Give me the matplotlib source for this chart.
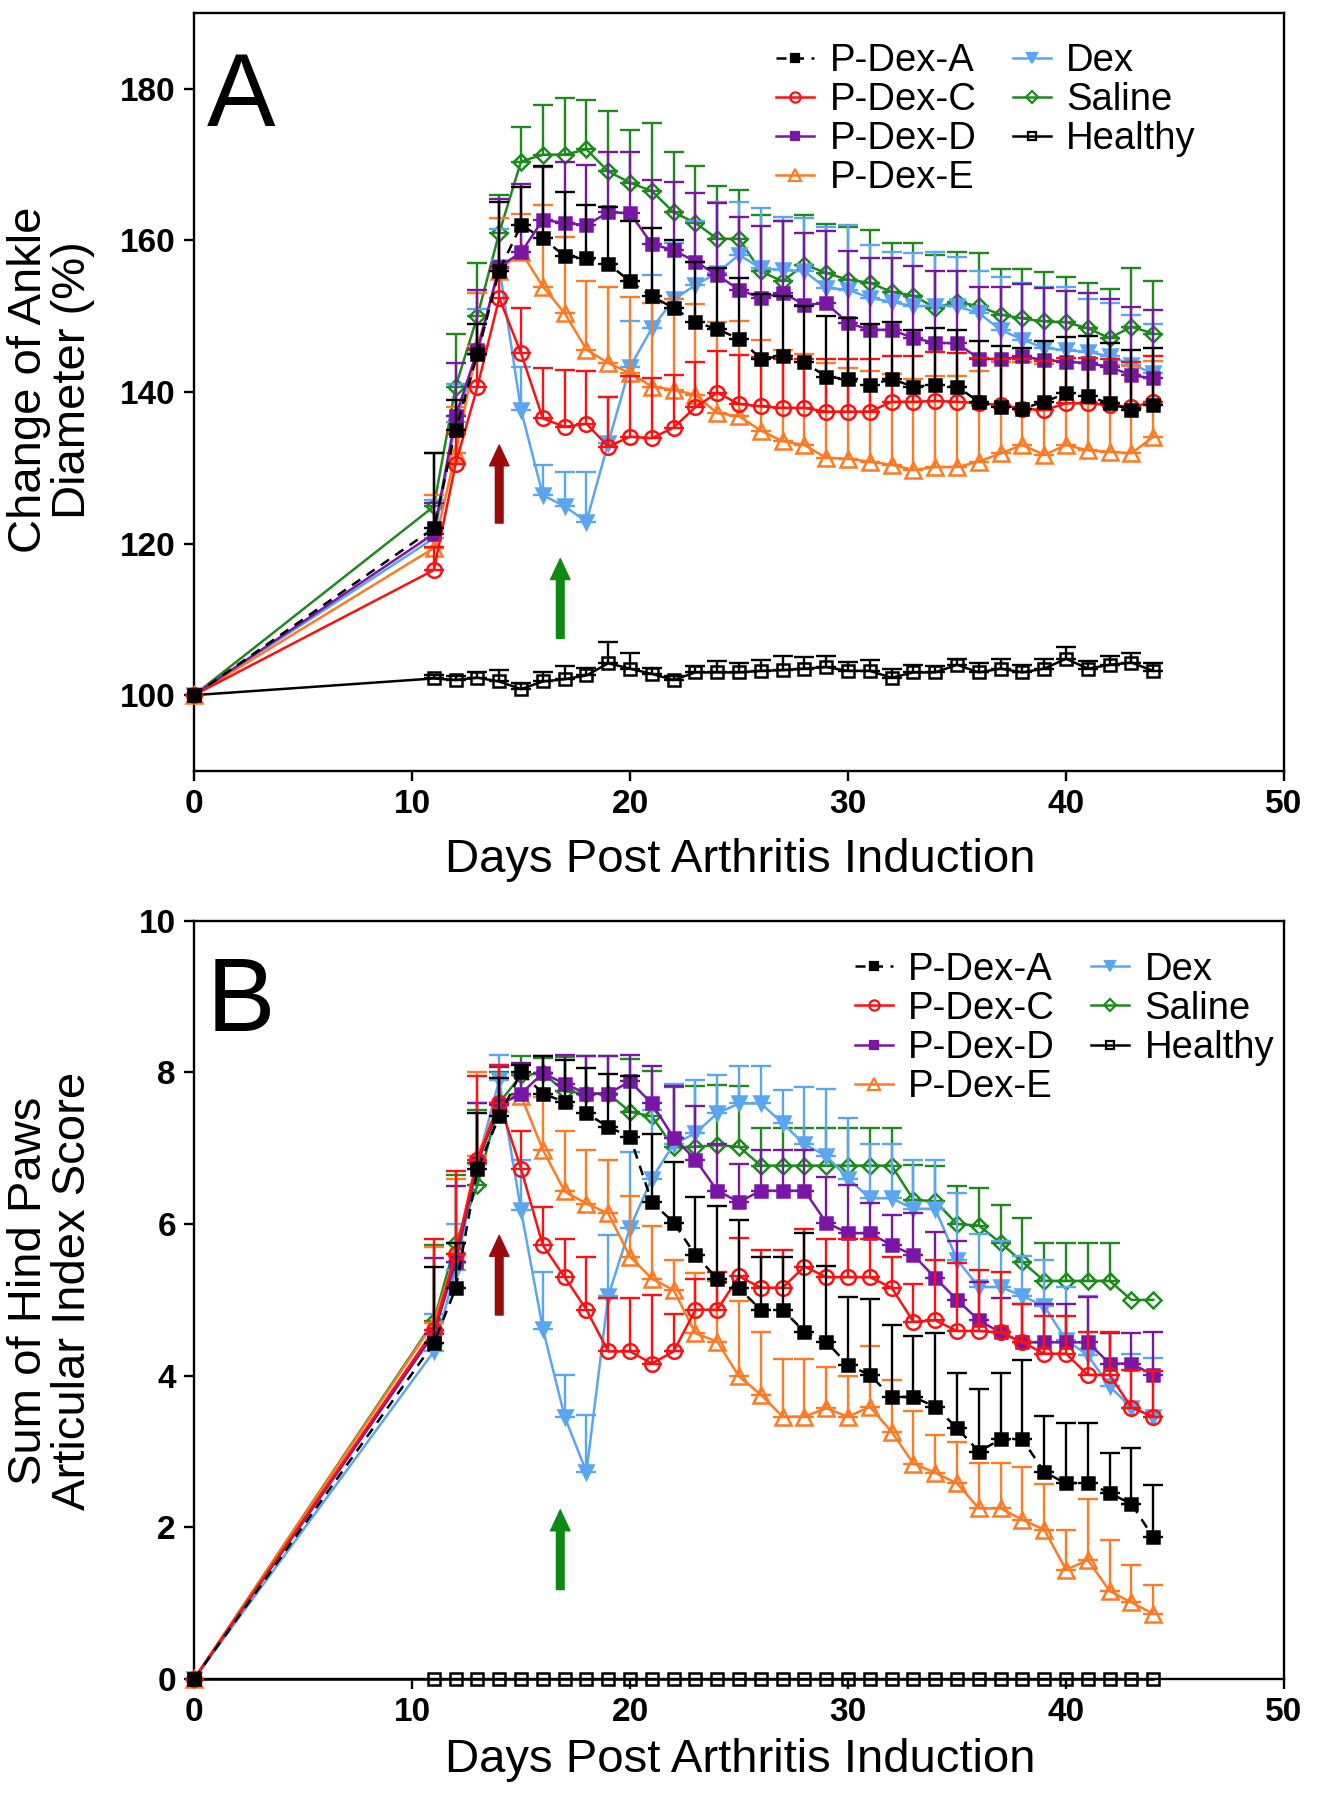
import numpy as np
import matplotlib
matplotlib.use('Agg')
import matplotlib.pyplot as plt
from matplotlib.lines import Line2D

plt.rcParams['font.family'] = ['Liberation Sans', 'DejaVu Sans']

days = [0] + list(range(11, 45))

labels = ['P-Dex-A', 'P-Dex-C', 'P-Dex-D', 'P-Dex-E', 'Dex', 'Saline', 'Healthy']

# ---- panel A: change of ankle diameter (%) ----
ankle_pdex_a = [100, 122, 135, 145, 156, 162, 160.3, 157.9, 157.7, 156.9, 154.6, 152.6, 151.1, 149.2, 148.3,
                147, 144.4, 144.7, 143.9, 142, 141.7, 140.9, 141.7, 140.7, 140.9, 140.7, 138.7, 138, 137.8,
                138.7, 139.8, 139.4, 138.5, 137.6, 138.3]
ankle_pdex_a_err = [0, 10, 4, 4, 9, 5, 9.5, 8.5, 7, 7.5, 8, 9, 9, 8, 8, 8, 8.5, 8, 7.5, 8, 8, 8, 7.5, 7.5,
                    7.5, 7.5, 8, 8, 8, 8, 7.5, 8, 8, 8, 7.5]
ankle_pdex_c = [100, 116.5, 130.5, 140.7, 152.4, 145.1, 136.5, 135.4, 135.8, 132.8, 134.1, 133.9, 135.3, 138,
                139.9, 138.4, 138.1, 137.9, 137.9, 137.4, 137.4, 137.4, 138.7, 138.7, 138.8, 138.7, 138.5,
                138.3, 137.8, 137.6, 138.5, 138.5, 138.3, 138, 138.7]
ankle_pdex_c_err = [0, 3, 4, 5, 4, 6, 6.7, 7.5, 7, 6.5, 8, 8, 7, 6, 5.5, 6.5, 6.5, 6.5, 6.5, 7, 7, 7, 6, 6,
                    6.5, 6.5, 6, 6, 6.5, 6.5, 6, 6, 6, 6, 6]
ankle_pdex_d = [100, 121.3, 136.8, 145.5, 156.5, 158.4, 162.7, 162.3, 162, 163.7, 163.6, 159.5, 158.7, 157.2,
                155.4, 153.5, 152.4, 153.1, 151.5, 151.7, 149.1, 148.2, 148.2, 147.1, 146.5, 146.4, 144.4,
                144.3, 144.7, 144.2, 144, 143.8, 143.3, 142.2, 141.8]
ankle_pdex_d_err = [0, 4, 7, 8, 9, 9, 7, 8, 8, 8, 8, 8.5, 9, 9, 9.5, 9.6, 9.5, 9.5, 9.5, 9.5, 9.5, 9.5, 9.5,
                    9.5, 9.5, 9.5, 9.5, 9.5, 9.5, 9.5, 9.3, 9.3, 9, 9, 9]
ankle_pdex_e = [100, 119.4, 132, 146, 156, 158.5, 153.9, 150.4, 145.6, 143.8, 142.5, 140.7, 140.3, 139.6,
                137.2, 136.8, 134.9, 133.5, 133, 131.3, 131.2, 130.8, 130.4, 129.7, 130.1, 130.1, 130.8,
                131.9, 133, 131.7, 133, 132.3, 132.1, 131.9, 134.1]
ankle_pdex_e_err = [0, 7, 6, 7, 7, 5, 10.8, 10, 9, 10, 10, 11, 12, 12, 12, 12.5, 12, 12, 12, 12.5, 12, 12,
                    12, 12, 12, 12, 12, 12, 11, 12, 11, 11.5, 11.5, 11.5, 10]
ankle_dex = [100, 120.7, 136, 145, 156.5, 137.6, 126.4, 124.9, 122.9, 133.3, 143.3, 148.4, 152.2, 154.1,
             155.7, 158.1, 156.3, 156.1, 155.9, 153.7, 153.5, 152.4, 151.9, 151.3, 151.4, 151.3, 150.4,
             148.2, 146.9, 145.8, 145.5, 145.3, 144.7, 143.6, 142.5]
ankle_dex_err = [0, 5, 5, 6, 5, 5.7, 4, 4.5, 6.5, 6, 6, 7, 7.5, 8.5, 9.4, 7, 8, 7, 7, 8, 8.5, 7, 6.5, 7, 7,
                 6.5, 5.5, 7, 7.5, 8, 8.4, 7, 7, 6.5, 6.5]
ankle_saline = [100, 124.9, 140.7, 150, 161, 170.4, 171.3, 171.3, 172, 169.1, 167.6, 166.5, 163.7, 162.3,
                160.2, 160.2, 155.9, 154.6, 156.8, 155.7, 154.8, 154.4, 153.2, 152.7, 151.1, 151.9, 151.3,
                150.2, 149.7, 149.3, 149.2, 148.4, 147.1, 148.6, 147.7]
ankle_saline_err = [0, 7, 7, 7, 5, 4.5, 6.5, 7.5, 6.5, 8, 7, 9, 8, 7.5, 7, 6.5, 7.5, 8, 6.5, 6.5, 7, 7, 6.5,
                    7, 7, 6.5, 7, 6, 6.5, 6.5, 6, 6, 6.5, 7.7, 7]
ankle_healthy = [100, 102.2, 102, 102.3, 101.8, 100.8, 101.8, 102.1, 102.6, 104.2, 103.5, 102.8, 102, 103,
                 103, 103, 103.2, 103.3, 103.5, 103.7, 103.2, 103.2, 102.3, 103, 103, 104, 103, 103.5, 103,
                 103.5, 104.8, 103.5, 104, 104.3, 103.2]
ankle_healthy_err = [0, 0.5, 0.5, 0.8, 1.5, 0.8, 1.3, 1.7, 1, 2.8, 2, 0.8, 0.5, 0.8, 1.5, 1.3, 1.5, 1.8, 1.5,
                     1.5, 1.2, 1.5, 1.2, 1, 0.8, 0.8, 1.2, 1.3, 1, 1.3, 1.5, 1, 1.2, 1.3, 1]

# ---- panel B: articular index score ----
score_pdex_a = [0, 4.43, 5.15, 6.72, 7.42, 8.0, 7.72, 7.61, 7.46, 7.28, 7.15, 6.29, 6.02, 5.59, 5.28, 5.15,
                4.87, 4.87, 4.58, 4.45, 4.14, 4.01, 3.72, 3.72, 3.59, 3.31, 3.0, 3.16, 3.16, 2.73, 2.58,
                2.59, 2.45, 2.31, 1.87]
score_pdex_a_err = [0, 1.0, 0.6, 0.75, 0.5, 0.1, 0.5, 0.55, 0.6, 0.7, 0.8, 0.9, 0.8, 0.77, 0.96, 0.9, 0.7,
                    0.7, 1.3, 1.0, 0.9, 1.0, 0.95, 0.8, 0.97, 0.73, 0.82, 0.88, 1.05, 0.74, 0.79, 0.78,
                    0.53, 0.74, 0.69]
score_pdex_c = [0, 4.6, 5.6, 6.85, 7.6, 6.73, 5.72, 5.3, 4.87, 4.32, 4.32, 4.16, 4.32, 4.87, 4.87, 5.31,
                5.16, 5.16, 5.44, 5.3, 5.3, 5.3, 5.16, 4.71, 4.73, 4.59, 4.59, 4.57, 4.44, 4.29, 4.29, 4.01,
                4.01, 3.58, 3.46]
score_pdex_c_err = [0, 1.2, 1.1, 1.1, 0.5, 0.5, 0.5, 0.5, 0.7, 0.7, 0.7, 0.9, 0.5, 0.4, 0.5, 0.5, 0.5, 0.5,
                    0.5, 0.5, 0.5, 0.5, 0.4, 0.5, 0.8, 0.9, 0.8, 0.8, 0.5, 0.5, 0.5, 0.56, 0.56, 0.5, 0.6]
score_pdex_d = [0, 4.55, 5.5, 6.8, 7.57, 7.72, 7.99, 7.85, 7.72, 7.72, 7.88, 7.59, 7.14, 6.85, 6.44, 6.29,
                6.44, 6.44, 6.44, 6.02, 5.88, 5.88, 5.72, 5.59, 5.29, 5.0, 4.73, 4.57, 4.44, 4.44, 4.44, 4.44,
                4.16, 4.16, 4.01]
score_pdex_d_err = [0, 1.0, 1.0, 0.8, 0.5, 0.4, 0.23, 0.38, 0.5, 0.5, 0.35, 0.5, 0.68, 0.7, 0.62, 0.5, 0.54,
                    0.54, 0.54, 0.6, 0.63, 0.4, 0.4, 0.55, 0.6, 0.78, 0.5, 0.45, 0.5, 0.5, 0.5, 0.6, 0.4,
                    0.4, 0.57]
score_pdex_e = [0, 4.7, 5.6, 6.9, 7.6, 7.69, 6.98, 6.43, 6.27, 6.14, 5.57, 5.28, 5.13, 4.56, 4.45, 3.99,
                3.75, 3.46, 3.46, 3.57, 3.46, 3.59, 3.26, 2.84, 2.72, 2.58, 2.25, 2.25, 2.1, 1.97, 1.44, 1.57,
                1.16, 1.01, 0.86]
score_pdex_e_err = [0, 1.0, 1.0, 1.1, 0.5, 0.3, 0.7, 0.8, 0.7, 0.7, 0.8, 0.7, 0.4, 0.8, 0.8, 1.0, 0.83,
                    0.76, 0.76, 0.55, 0.53, 0.8, 0.68, 0.7, 0.5, 0.55, 0.6, 0.6, 0.7, 0.6, 0.53, 0.8, 0.68,
                    0.5, 0.38]
score_dex = [0, 4.32, 5.4, 6.8, 7.9, 6.18, 4.62, 3.46, 2.73, 5.05, 5.95, 6.6, 7.05, 7.2, 7.46, 7.59, 7.59,
             7.33, 7.05, 6.9, 6.6, 6.34, 6.34, 6.2, 6.2, 5.53, 5.17, 5.17, 5.05, 4.92, 4.47, 4.27, 3.86,
             3.58, 3.46]
score_dex_err = [0, 0.5, 0.6, 0.8, 0.33, 0.66, 0.75, 0.55, 0.75, 0.8, 1.0, 0.9, 0.8, 0.7, 0.5, 0.5, 0.5,
                 0.44, 0.76, 0.88, 0.8, 0.72, 0.72, 0.64, 0.64, 0.88, 0.7, 0.6, 0.53, 0.6, 0.7, 0.78, 0.7,
                 0.7, 0.77]
score_saline = [0, 4.72, 5.75, 6.51, 7.6, 7.96, 7.99, 7.75, 7.72, 7.72, 7.48, 7.42, 7.01, 7.02, 7.04, 7.02,
                6.77, 6.77, 6.77, 6.77, 6.77, 6.77, 6.77, 6.32, 6.3, 6.0, 5.98, 5.75, 5.5, 5.25, 5.25, 5.25,
                5.25, 5.0, 5.0]
score_saline_err = [0, 1.0, 0.9, 1.0, 0.4, 0.25, 0.2, 0.45, 0.5, 0.5, 0.7, 0.6, 0.8, 0.8, 0.8, 0.8, 0.5,
                    0.5, 0.5, 0.5, 0.5, 0.5, 0.5, 0.46, 0.46, 0.5, 0.5, 0.5, 0.58, 0.5, 0.5, 0.5, 0.5, 0, 0]
score_healthy = [0] * 35
score_healthy_err = [0] * 35

# styles: color, marker, filled, linestyle, markersize
styles = {
    'P-Dex-A': ('black', 's', True, (0, (4, 3)), 9),
    'P-Dex-C': ('#FF1010', 'o', False, '-', 10.5),
    'P-Dex-D': ('#7A16A6', 's', True, '-', 9),
    'P-Dex-E': ('#FF7A22', '^', False, '-', 12),
    'Dex': ('#5AA6F0', 'v', True, '-', 10),
    'Saline': ('#1E8A1E', 'D', False, '-', 8.5),
    'Healthy': ('black', 's', False, '-', 9),
}
draw_order = ['Healthy', 'Saline', 'Dex', 'P-Dex-E', 'P-Dex-D', 'P-Dex-C', 'P-Dex-A']


def draw_series(ax, name, vals, errs, z):
    color, mk, filled, ls, ms = styles[name]
    x = np.array(days, dtype=float)
    y = np.array(vals, dtype=float)
    e = np.array(errs, dtype=float)
    m = e > 0
    eb = ax.errorbar(x[m], y[m], yerr=[np.zeros(m.sum()), e[m]], fmt='none', ecolor=color,
                     elinewidth=1.7, capsize=7, capthick=1.7, zorder=z)
    for art in eb.lines[1] + eb.lines[2]:
        art.set_clip_on(False)
    ax.plot(x, y, linestyle=ls, color=color, lw=1.8, marker=mk, ms=ms,
            mfc=color if filled else 'none', mec=color, mew=1.8, zorder=z + 0.5, clip_on=False)


def legend_handles():
    hs = []
    for name in labels:
        color, mk, filled, ls, ms = styles[name]
        hs.append(Line2D([], [], linestyle=ls, color=color, lw=1.8, marker=mk, ms=ms * 0.7,
                         mfc=color if filled else 'none', mec=color, mew=1.6))
    return hs


def style_axes(ax):
    for sp in ax.spines.values():
        sp.set_linewidth(1.7)
    ax.tick_params(direction='out', length=7, width=1.7, labelsize=24, pad=6)
    for t in ax.get_xticklabels() + ax.get_yticklabels():
        t.set_fontweight('bold')


fig = plt.figure(figsize=(13.19, 18.0), dpi=100)
axA = fig.add_axes([0.1471, 0.5717, 0.8264, 0.4211])
axB = fig.add_axes([0.1471, 0.0672, 0.8264, 0.4213])

ankle = {'P-Dex-A': (ankle_pdex_a, ankle_pdex_a_err), 'P-Dex-C': (ankle_pdex_c, ankle_pdex_c_err),
         'P-Dex-D': (ankle_pdex_d, ankle_pdex_d_err), 'P-Dex-E': (ankle_pdex_e, ankle_pdex_e_err),
         'Dex': (ankle_dex, ankle_dex_err), 'Saline': (ankle_saline, ankle_saline_err),
         'Healthy': (ankle_healthy, ankle_healthy_err)}
score = {'P-Dex-A': (score_pdex_a, score_pdex_a_err), 'P-Dex-C': (score_pdex_c, score_pdex_c_err),
         'P-Dex-D': (score_pdex_d, score_pdex_d_err), 'P-Dex-E': (score_pdex_e, score_pdex_e_err),
         'Dex': (score_dex, score_dex_err), 'Saline': (score_saline, score_saline_err),
         'Healthy': (score_healthy, score_healthy_err)}

for i, name in enumerate(draw_order):
    draw_series(axA, name, *ankle[name], z=2 + 2 * i)
    draw_series(axB, name, *score[name], z=2 + 2 * i)

# panel A axes
axA.set_xlim(0, 50)
axA.set_ylim(90, 190)
axA.set_xticks([0, 10, 20, 30, 40, 50])
axA.set_yticks([100, 120, 140, 160, 180])
style_axes(axA)

axB.set_xlim(0, 50)
axB.set_ylim(0, 10)
axB.set_xticks([0, 10, 20, 30, 40, 50])
axB.set_yticks([0, 2, 4, 6, 8, 10])
style_axes(axB)

# treatment arrows
arrow_red = '#9A0A0A'
arrow_green = '#0E8A14'
akw = dict(width=5.5, headwidth=14, headlength=15, shrink=0)
axA.annotate('', xy=(14, 133), xytext=(14, 122.7),
             arrowprops=dict(color=arrow_red, **akw), zorder=1)
axA.annotate('', xy=(16.8, 118.0), xytext=(16.8, 107.5),
             arrowprops=dict(color=arrow_green, **akw), zorder=1)
axB.annotate('', xy=(14, 5.85), xytext=(14, 4.8),
             arrowprops=dict(color=arrow_red, **akw), zorder=1)
axB.annotate('', xy=(16.8, 2.23), xytext=(16.8, 1.18),
             arrowprops=dict(color=arrow_green, **akw), zorder=1)

# panel letters
axA.text(0.012, 0.851, 'A', transform=axA.transAxes, fontsize=74, va='baseline', ha='left')
axB.text(0.012, 0.854, 'B', transform=axB.transAxes, fontsize=74, va='baseline', ha='left')

# legends
legkw = dict(ncol=2, frameon=False, fontsize=27.5, handlelength=1.0, handletextpad=0.4,
             columnspacing=0.95, labelspacing=0.08, borderpad=0, borderaxespad=0, loc='upper left')
axA.legend(legend_handles(), labels, bbox_to_anchor=(0.534, 0.960), **legkw)
axB.legend(legend_handles(), labels, bbox_to_anchor=(0.606, 0.959), **legkw)

# axis labels
fig.text(0.561, 0.522, 'Days Post Arthritis Induction', ha='center', va='center', fontsize=34)
fig.text(0.561, 0.022, 'Days Post Arthritis Induction', ha='center', va='center', fontsize=34)
fig.text(0.039, 0.789, 'Change of Ankle\nDiameter (%)', ha='center', va='center', rotation=90,
         fontsize=34, linespacing=1.0, multialignment='center')
fig.text(0.039, 0.283, 'Sum of Hind Paws\nArticular Index Score', ha='center', va='center', rotation=90,
         fontsize=34, linespacing=1.0, multialignment='center')

fig.savefig('out.png', dpi=100)
